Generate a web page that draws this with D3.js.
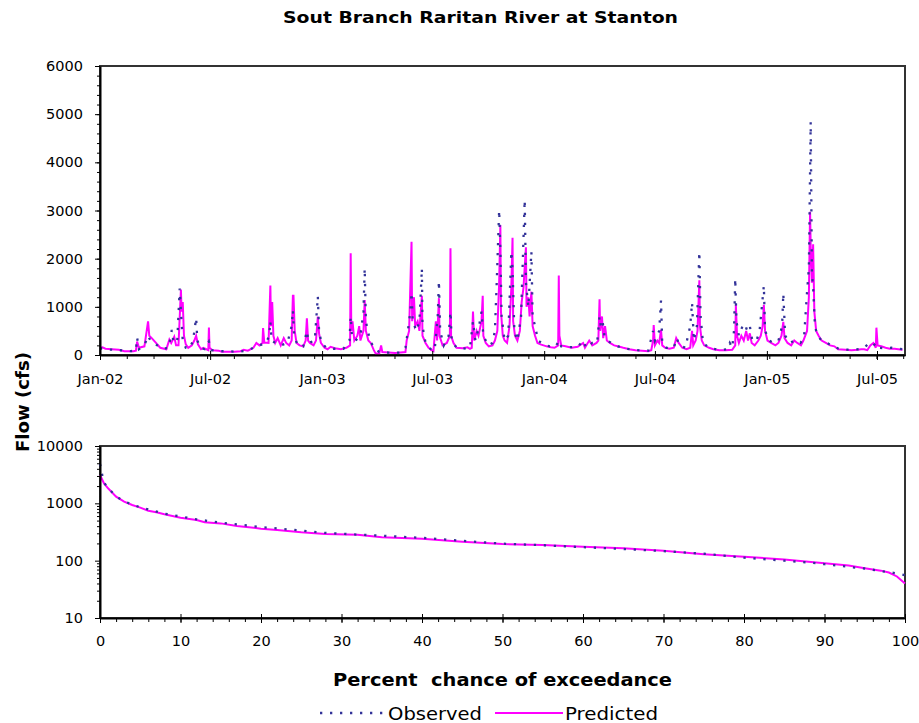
<!DOCTYPE html>
<html>
<head>
<meta charset="utf-8">
<script src="https://cdn.jsdelivr.net/npm/d3@7"></script>
<style>
  body { margin: 0; background: #fff; }
  text { font-family: "DejaVu Sans", sans-serif; fill: #000; }
  .axis path, .axis line { stroke: #000; }
</style>
</head>
<body>
<div id="chart"></div>
<script>
// daily flow (cfs)
var predictedFlow = [
  ["2002-01-01",150],["2002-01-05",160],["2002-01-10",130],["2002-01-20",120],["2002-02-01",110],["2002-02-10",80],
  ["2002-02-25",80],["2002-03-01",90],["2002-03-03",280],["2002-03-06",150],["2002-03-15",180],["2002-03-21",700],
  ["2002-03-23",400],["2002-03-27",350],["2002-04-03",250],["2002-04-10",150],["2002-04-20",120],["2002-04-25",320],
  ["2002-04-28",250],["2002-05-03",380],["2002-05-06",200],["2002-05-10",200],["2002-05-14",1360],["2002-05-15",900],
  ["2002-05-17",1100],["2002-05-19",400],["2002-05-22",220],["2002-05-26",150],["2002-06-01",200],["2002-06-05",300],
  ["2002-06-08",400],["2002-06-11",220],["2002-06-16",120],["2002-06-20",150],["2002-06-28",100],["2002-06-29",570],
  ["2002-06-30",150],["2002-07-05",100],["2002-07-15",90],["2002-07-20",70],["2002-08-10",70],["2002-08-20",80],
  ["2002-08-25",110],["2002-09-01",90],["2002-09-10",150],["2002-09-15",250],["2002-09-20",200],["2002-09-25",250],
  ["2002-09-26",560],["2002-09-28",260],["2002-10-05",250],["2002-10-08",1440],["2002-10-09",600],["2002-10-11",1100],
  ["2002-10-13",400],["2002-10-16",250],["2002-10-20",350],["2002-10-25",200],["2002-10-30",350],["2002-11-03",250],
  ["2002-11-08",200],["2002-11-12",300],["2002-11-14",1230],["2002-11-15",1230],["2002-11-17",500],["2002-11-20",250],
  ["2002-11-25",200],["2002-12-01",180],["2002-12-05",300],["2002-12-07",760],["2002-12-09",300],["2002-12-12",250],
  ["2002-12-18",200],["2002-12-22",300],["2002-12-25",800],["2002-12-27",450],["2002-12-30",250],
  ["2003-01-05",150],["2003-01-10",120],["2003-01-15",170],["2003-01-22",140],["2003-02-01",120],["2003-02-10",150],
  ["2003-02-16",200],["2003-02-17",2110],["2003-02-18",500],["2003-02-20",700],["2003-02-23",300],["2003-02-28",400],
  ["2003-03-03",600],["2003-03-05",300],["2003-03-10",500],["2003-03-12",1140],["2003-03-14",500],["2003-03-18",300],
  ["2003-03-22",250],["2003-03-27",100],["2003-03-30",30],["2003-04-05",30],["2003-04-08",200],["2003-04-10",60],
  ["2003-04-20",50],["2003-05-01",40],["2003-05-10",50],["2003-05-18",60],["2003-05-20",300],["2003-05-24",500],
  ["2003-05-28",2350],["2003-05-29",700],["2003-06-01",1200],["2003-06-03",600],["2003-06-07",700],["2003-06-10",500],
  ["2003-06-14",1230],["2003-06-15",400],["2003-06-20",250],["2003-06-25",150],["2003-06-30",100],["2003-07-03",80],
  ["2003-07-07",700],["2003-07-09",300],["2003-07-12",1180],["2003-07-13",400],["2003-07-18",200],["2003-07-25",250],
  ["2003-07-30",400],["2003-07-31",2215],["2003-08-01",400],["2003-08-05",250],["2003-08-10",150],["2003-08-20",140],
  ["2003-08-28",160],["2003-09-01",130],["2003-09-04",150],["2003-09-06",900],["2003-09-08",300],["2003-09-12",500],
  ["2003-09-15",400],["2003-09-20",700],["2003-09-22",1230],["2003-09-23",400],["2003-09-27",250],["2003-10-02",180],
  ["2003-10-08",200],["2003-10-12",300],["2003-10-16",500],["2003-10-19",1500],["2003-10-21",2700],["2003-10-22",900],
  ["2003-10-25",400],["2003-10-28",300],["2003-11-01",250],["2003-11-05",600],["2003-11-08",1400],["2003-11-10",2435],
  ["2003-11-11",700],["2003-11-14",400],["2003-11-18",300],["2003-11-22",500],["2003-11-25",1100],["2003-11-28",1400],
  ["2003-12-02",2235],["2003-12-03",1000],["2003-12-06",1200],["2003-12-08",800],["2003-12-11",1315],["2003-12-13",600],
  ["2003-12-17",400],["2003-12-21",250],["2003-12-26",220],["2003-12-31",200],
  ["2004-01-05",180],["2004-01-12",160],["2004-01-18",150],["2004-01-24",200],["2004-01-25",1650],["2004-01-26",400],
  ["2004-01-29",200],["2004-02-05",180],["2004-02-15",150],["2004-02-25",170],["2004-03-05",250],["2004-03-08",150],
  ["2004-03-15",300],["2004-03-20",200],["2004-03-27",250],["2004-03-30",300],["2004-04-01",1155],["2004-04-02",500],
  ["2004-04-05",800],["2004-04-07",350],["2004-04-10",600],["2004-04-13",300],["2004-04-18",250],["2004-04-25",200],
  ["2004-05-01",180],["2004-05-10",150],["2004-05-20",120],["2004-05-30",100],["2004-06-10",90],["2004-06-20",80],
  ["2004-06-25",100],["2004-06-28",300],["2004-06-29",620],["2004-07-01",200],["2004-07-05",300],["2004-07-08",250],
  ["2004-07-11",520],["2004-07-13",200],["2004-07-18",150],["2004-07-25",130],["2004-08-01",150],["2004-08-05",350],
  ["2004-08-09",250],["2004-08-15",150],["2004-08-22",120],["2004-08-28",150],["2004-08-31",500],["2004-09-02",200],
  ["2004-09-06",300],["2004-09-09",500],["2004-09-12",1550],["2004-09-13",600],["2004-09-16",300],["2004-09-20",200],
  ["2004-09-28",150],["2004-10-05",120],["2004-10-15",100],["2004-10-25",100],["2004-11-05",110],["2004-11-10",200],
  ["2004-11-11",1040],["2004-11-13",400],["2004-11-16",250],["2004-11-20",400],["2004-11-24",300],["2004-11-28",500],
  ["2004-12-01",300],["2004-12-04",450],["2004-12-07",250],["2004-12-12",200],["2004-12-18",300],["2004-12-22",400],
  ["2004-12-25",600],["2004-12-27",1040],["2004-12-29",500],
  ["2005-01-02",300],["2005-01-08",250],["2005-01-15",200],["2005-01-20",250],["2005-01-25",400],["2005-01-28",690],
  ["2005-01-30",350],["2005-02-04",250],["2005-02-10",200],["2005-02-15",300],["2005-02-20",250],["2005-02-26",200],
  ["2005-03-02",300],["2005-03-08",500],["2005-03-11",1200],["2005-03-13",2975],["2005-03-14",2250],["2005-03-16",1500],
  ["2005-03-18",2300],["2005-03-20",900],["2005-03-23",500],["2005-03-27",400],["2005-04-01",300],["2005-04-08",250],
  ["2005-04-15",200],["2005-04-22",180],["2005-04-28",120],["2005-05-10",110],["2005-05-20",100],["2005-05-30",110],
  ["2005-06-05",120],["2005-06-10",120],["2005-06-15",100],["2005-06-20",200],["2005-06-25",250],["2005-06-29",150],
  ["2005-06-30",567],["2005-07-02",200],["2005-07-08",180],["2005-07-15",150],["2005-07-22",130],["2005-07-30",130],
  ["2005-08-05",120],["2005-08-12",110]
];

var observedFlow = [
  ["2002-01-01",140],["2002-01-10",120],["2002-02-01",100],["2002-02-20",80],["2002-03-01",90],["2002-03-03",360],
  ["2002-03-06",120],["2002-03-15",200],["2002-03-21",400],["2002-03-25",300],["2002-04-05",200],["2002-04-15",130],
  ["2002-04-24",150],["2002-04-29",520],["2002-05-02",250],["2002-05-08",300],["2002-05-12",1380],["2002-05-14",900],
  ["2002-05-17",300],["2002-05-22",150],["2002-05-28",130],["2002-06-03",300],["2002-06-08",770],["2002-06-10",300],
  ["2002-06-15",150],["2002-06-22",120],["2002-06-29",280],["2002-07-03",100],["2002-07-15",80],["2002-08-15",70],
  ["2002-09-01",90],["2002-09-10",150],["2002-09-20",200],["2002-10-01",250],["2002-10-06",400],["2002-10-08",700],
  ["2002-10-10",300],["2002-10-16",250],["2002-10-25",200],["2002-11-05",250],["2002-11-12",600],["2002-11-14",930],
  ["2002-11-16",400],["2002-11-22",200],["2002-12-01",180],["2002-12-07",500],["2002-12-10",250],["2002-12-20",300],
  ["2002-12-25",1220],["2002-12-27",500],["2002-12-31",250],
  ["2003-01-08",150],["2003-01-20",130],["2003-02-05",130],["2003-02-15",300],["2003-02-17",800],["2003-02-19",400],
  ["2003-02-25",300],["2003-03-05",400],["2003-03-10",900],["2003-03-12",1800],["2003-03-14",700],["2003-03-17",500],
  ["2003-03-21",300],["2003-03-27",150],["2003-04-05",60],["2003-04-20",50],["2003-05-10",50],["2003-05-18",150],
  ["2003-05-22",500],["2003-05-26",900],["2003-05-28",1300],["2003-05-30",700],["2003-06-05",500],["2003-06-10",700],
  ["2003-06-14",1800],["2003-06-15",600],["2003-06-20",250],["2003-06-30",100],["2003-07-05",100],["2003-07-10",800],
  ["2003-07-12",1540],["2003-07-14",500],["2003-07-20",200],["2003-07-28",400],["2003-07-31",900],["2003-08-02",300],
  ["2003-08-10",150],["2003-08-20",130],["2003-09-01",150],["2003-09-06",700],["2003-09-10",300],["2003-09-16",600],
  ["2003-09-20",900],["2003-09-23",400],["2003-10-01",200],["2003-10-08",250],["2003-10-12",500],["2003-10-15",1500],
  ["2003-10-19",3010],["2003-10-21",2200],["2003-10-23",800],["2003-10-28",300],["2003-11-03",400],["2003-11-08",2150],
  ["2003-11-10",1800],["2003-11-13",500],["2003-11-18",300],["2003-11-24",800],["2003-11-30",3220],["2003-12-02",1500],
  ["2003-12-06",1000],["2003-12-11",2145],["2003-12-13",800],["2003-12-17",600],["2003-12-22",300],["2003-12-31",220],
  ["2004-01-10",180],["2004-01-20",170],["2004-01-25",300],["2004-01-29",180],["2004-02-10",160],["2004-02-25",170],
  ["2004-03-05",300],["2004-03-10",150],["2004-03-20",250],["2004-03-28",250],["2004-04-01",800],["2004-04-03",600],
  ["2004-04-06",700],["2004-04-09",400],["2004-04-14",300],["2004-04-20",250],["2004-05-01",180],["2004-05-15",130],
  ["2004-06-01",100],["2004-06-20",90],["2004-06-28",500],["2004-07-01",300],["2004-07-08",500],["2004-07-11",1130],
  ["2004-07-13",250],["2004-07-20",150],["2004-08-01",150],["2004-08-06",350],["2004-08-10",200],["2004-08-20",150],
  ["2004-08-28",600],["2004-08-31",1090],["2004-09-03",300],["2004-09-08",600],["2004-09-12",2145],["2004-09-14",800],
  ["2004-09-18",250],["2004-09-28",150],["2004-10-15",100],["2004-10-28",120],["2004-11-01",250],["2004-11-05",150],
  ["2004-11-08",500],["2004-11-10",1590],["2004-11-12",700],["2004-11-16",400],["2004-11-22",600],["2004-11-27",500],
  ["2004-12-01",650],["2004-12-04",600],["2004-12-08",300],["2004-12-15",300],["2004-12-20",500],["2004-12-27",1440],
  ["2004-12-29",500],
  ["2005-01-05",300],["2005-01-12",250],["2005-01-20",300],["2005-01-26",600],["2005-01-28",1280],["2005-01-31",400],
  ["2005-02-08",250],["2005-02-15",300],["2005-02-25",250],["2005-03-03",350],["2005-03-08",1300],["2005-03-11",1800],
  ["2005-03-14",4840],["2005-03-16",1700],["2005-03-18",1400],["2005-03-21",600],["2005-03-25",400],["2005-04-01",300],
  ["2005-04-10",250],["2005-04-20",180],["2005-05-01",120],["2005-05-15",110],["2005-06-01",120],["2005-06-10",150],
  ["2005-06-18",250],["2005-06-25",200],["2005-06-30",250],["2005-07-05",150],["2005-07-15",140],["2005-07-25",150],
  ["2005-08-05",130],["2005-08-12",120]
];

// flow duration curve, lower panel: [percent chance of exceedance, cfs]
var predictedDuration = [
  [0,3120],[0.5,2230],[1,1830],[2,1310],[3,1070],[4,935],[5,840],[6,745],[7,697],[8,643],[10,562],[12,512],
  [13,467],[15,447],[17,403],[20,362],[22,343],[25,313],[28,292],[32,282],[35,257],[40,240],[45,214],[50,195],
  [55,188],[60,175],[65,164],[70,149],[75,130],[80,117],[85,105],[90,90],[93,82],[95,74],[97,67],[98,62],[99,53],[100,40]
];
var observedDuration = [
  [0,4850],[0.3,3000],[0.5,2300],[1,1850],[2,1320],[3,1080],[5,850],[8,660],[10,590],[12,525],[15,460],[17,430],
  [20,385],[22,365],[25,335],[28,305],[32,285],[35,272],[40,250],[45,222],[50,198],[55,186],[57,180],[60,172],
  [65,160],[70,147],[75,132],[80,113],[85,100],[88,93],[90,87],[93,78],[95,73],[97,66],[99,60],[100,56]
];

var flowTicks = [0, 1000, 2000, 3000, 4000, 5000, 6000];
var logTicks = [10, 100, 1000, 10000];
var pctTicks = [0, 10, 20, 30, 40, 50, 60, 70, 80, 90, 100];

var W = 919, H = 723;
var top1 = { left: 100, right: 905, top: 66, bottom: 355 };
var bot1 = { left: 100, right: 905, top: 446, bottom: 618 };
var obsColor = '#333399', predColor = '#ff00ff';

var parseDay = d3.timeParse('%Y-%m-%d');
var svg = d3.select('#chart').append('svg').attr('width', W).attr('height', H);

// ---------- upper panel: daily hydrograph ----------
var x = d3.scaleTime()
  .domain([new Date(2002, 0, 1), new Date(2005, 7, 16)])
  .range([top1.left, top1.right]);
var y = d3.scaleLinear().domain([0, 6000]).range([top1.bottom, top1.top]);

svg.append('rect')
  .attr('x', top1.left).attr('y', top1.top)
  .attr('width', top1.right - top1.left).attr('height', top1.bottom - top1.top)
  .attr('fill', 'none').attr('stroke', '#333').attr('stroke-width', 2);

var line1 = d3.line()
  .x(function(d) { return x(parseDay(d[0])); })
  .y(function(d) { return y(d[1]); });

svg.append('path').datum(predictedFlow)
  .attr('d', line1).attr('fill', 'none')
  .attr('stroke', predColor).attr('stroke-width', 2);
svg.append('path').datum(observedFlow)
  .attr('d', line1).attr('fill', 'none')
  .attr('stroke', obsColor).attr('stroke-width', 2.3).attr('stroke-dasharray', '2.3,7.7');

// y axis, minor then major
svg.append('g').attr('class', 'axis')
  .attr('transform', 'translate(' + top1.left + ',0)')
  .call(d3.axisLeft(y).tickValues(d3.range(0, 6001, 200)).tickSize(3).tickFormat(''))
  .select('.domain').remove();
svg.append('g').attr('class', 'axis')
  .attr('transform', 'translate(' + top1.left + ',0)')
  .call(d3.axisLeft(y).tickValues(flowTicks).tickSize(5).tickPadding(12)
    .tickFormat(d3.format('d')).tickSizeOuter(0))
  .call(function(g) {
    g.select('.domain').attr('stroke-width', 2);
    g.selectAll('text').style('font-size', '14.5px');
  });

// x axis: minor ticks every 44 days, major every six months crossing the axis
var minorDays = d3.timeDay.range(new Date(2002, 0, 1), new Date(2005, 7, 17), 44);
svg.append('g').attr('class', 'axis')
  .attr('transform', 'translate(0,' + top1.bottom + ')')
  .call(d3.axisBottom(x).tickValues(minorDays).tickSize(4).tickFormat(''))
  .select('.domain').remove();
var majorMonths = d3.timeMonth.range(new Date(2002, 0, 1), new Date(2005, 7, 17), 6);
svg.append('g').attr('class', 'axis')
  .attr('transform', 'translate(0,' + top1.bottom + ')')
  .call(d3.axisTop(x).tickValues(majorMonths).tickSize(4).tickFormat('').tickSizeOuter(0))
  .select('.domain').remove();
svg.append('g').attr('class', 'axis')
  .attr('transform', 'translate(0,' + top1.bottom + ')')
  .call(d3.axisBottom(x).tickValues(majorMonths).tickSize(5).tickPadding(14)
    .tickFormat(d3.timeFormat('%b-%y')).tickSizeOuter(0))
  .call(function(g) {
    g.select('.domain').attr('stroke-width', 2);
    g.selectAll('text').style('font-size', '14.5px');
  });

// ---------- lower panel: flow duration curve ----------
var xp = d3.scaleLinear().domain([0, 100]).range([bot1.left, bot1.right]);
var yl = d3.scaleLog().domain([10, 10000]).range([bot1.bottom, bot1.top]);

svg.append('rect')
  .attr('x', bot1.left).attr('y', bot1.top)
  .attr('width', bot1.right - bot1.left).attr('height', bot1.bottom - bot1.top)
  .attr('fill', 'none').attr('stroke', '#333').attr('stroke-width', 2);

var line2 = d3.line()
  .x(function(d) { return xp(d[0]); })
  .y(function(d) { return yl(d[1]); });

svg.append('path').datum(predictedDuration)
  .attr('d', line2).attr('fill', 'none')
  .attr('stroke', predColor).attr('stroke-width', 2);
svg.append('path').datum(observedDuration)
  .attr('d', line2).attr('fill', 'none')
  .attr('stroke', obsColor).attr('stroke-width', 2.3).attr('stroke-dasharray', '2.3,7.7');

var logMinor = yl.ticks().filter(function(v) { return logTicks.indexOf(v) < 0; });
svg.append('g').attr('class', 'axis')
  .attr('transform', 'translate(' + bot1.left + ',0)')
  .call(d3.axisLeft(yl).tickValues(logMinor).tickSize(3).tickFormat(''))
  .select('.domain').remove();
svg.append('g').attr('class', 'axis')
  .attr('transform', 'translate(' + bot1.left + ',0)')
  .call(d3.axisLeft(yl).tickValues(logTicks).tickSize(5).tickPadding(12)
    .tickFormat(d3.format('d')).tickSizeOuter(0))
  .call(function(g) {
    g.select('.domain').attr('stroke-width', 2);
    g.selectAll('text').style('font-size', '14.5px');
  });

svg.append('g').attr('class', 'axis')
  .attr('transform', 'translate(0,' + bot1.bottom + ')')
  .call(d3.axisBottom(xp).tickValues(d3.range(0, 101, 2)).tickSize(4).tickFormat(''))
  .select('.domain').remove();
svg.append('g').attr('class', 'axis')
  .attr('transform', 'translate(0,' + bot1.bottom + ')')
  .call(d3.axisTop(xp).tickValues(pctTicks).tickSize(4).tickFormat('').tickSizeOuter(0))
  .select('.domain').remove();
svg.append('g').attr('class', 'axis')
  .attr('transform', 'translate(0,' + bot1.bottom + ')')
  .call(d3.axisBottom(xp).tickValues(pctTicks).tickSize(5).tickPadding(13).tickSizeOuter(0))
  .call(function(g) {
    g.select('.domain').attr('stroke-width', 2);
    g.selectAll('text').style('font-size', '14.5px');
  });

// ---------- titles, labels, legend ----------
svg.append('text')
  .attr('x', 480.5).attr('y', 22.5).attr('text-anchor', 'middle')
  .attr('textLength', 395).attr('lengthAdjust', 'spacingAndGlyphs')
  .style('font-size', '16.5px').style('font-weight', 'bold')
  .text('Sout Branch Raritan River at Stanton');

svg.append('text')
  .attr('x', 502.5).attr('y', 686).attr('text-anchor', 'middle')
  .attr('textLength', 339).attr('lengthAdjust', 'spacingAndGlyphs')
  .style('font-size', '17px').style('font-weight', 'bold')
  .style('white-space', 'pre')
  .text('Percent  chance of exceedance');

svg.append('text')
  .attr('transform', 'translate(29,402) rotate(-90)').attr('text-anchor', 'middle')
  .attr('textLength', 100).attr('lengthAdjust', 'spacingAndGlyphs')
  .style('font-size', '17px').style('font-weight', 'bold')
  .text('Flow (cfs)');

var legend = svg.append('g');
legend.append('line').attr('x1', 320).attr('x2', 385).attr('y1', 713).attr('y2', 713)
  .attr('stroke', obsColor).attr('stroke-width', 2.3).attr('stroke-dasharray', '2.3,7.7');
legend.append('text').attr('x', 388).attr('y', 720)
  .attr('textLength', 94).attr('lengthAdjust', 'spacingAndGlyphs')
  .style('font-size', '18px').text('Observed');
legend.append('line').attr('x1', 495).attr('x2', 563).attr('y1', 713).attr('y2', 713)
  .attr('stroke', predColor).attr('stroke-width', 2);
legend.append('text').attr('x', 565).attr('y', 720)
  .attr('textLength', 93).attr('lengthAdjust', 'spacingAndGlyphs')
  .style('font-size', '18px').text('Predicted');
</script>
</body>
</html>
